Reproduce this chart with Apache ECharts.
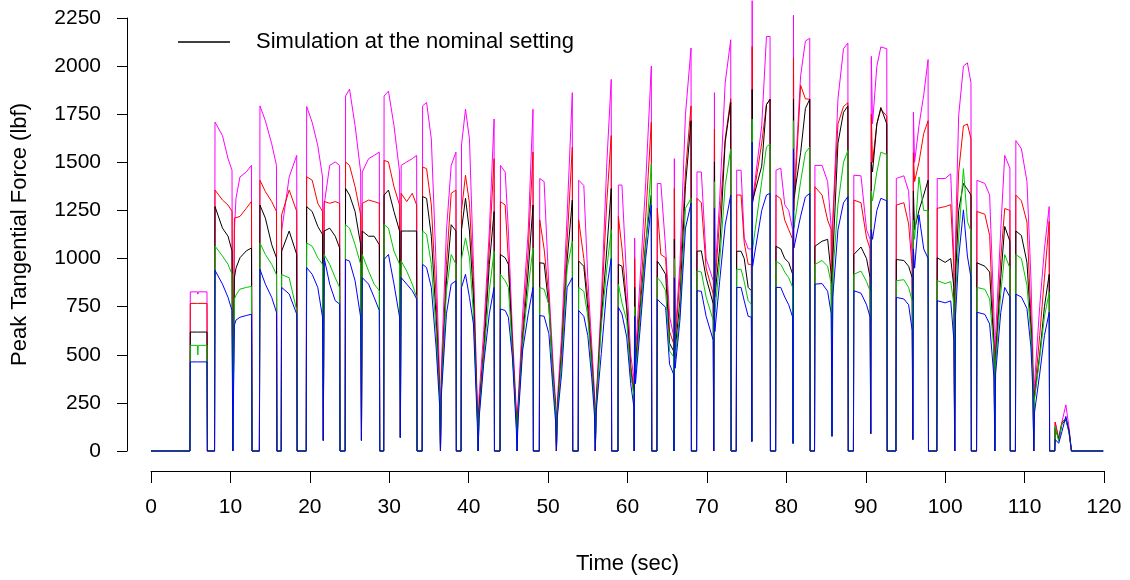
<!DOCTYPE html>
<html>
<head>
<meta charset="utf-8">
<script src="https://cdn.jsdelivr.net/npm/echarts@6/dist/echarts.min.js"></script>
<style>html,body{margin:0;padding:0;background:#fff}#c{width:1130px;height:580px}</style>
</head>
<body>
<div id="c"></div>
<script>
// Time (sec)
const time = [
 0, 4.9,
 4.95, 5.85, 5.9, 5.95, 7.05, 7.1, 8.0,
 8.06, 9.0, 9.7, 10.2, 10.3, 10.42, 10.5, 10.7, 11.2, 12.0, 12.65, 12.72, 13.65,
 13.72, 14.4, 15.2, 15.8, 15.85, 16.4, 16.45, 17.4, 18.35, 18.4, 19.55,
 19.6, 20.3, 21.0, 21.6, 21.7, 21.8, 22.5, 23.2, 23.75, 23.8, 24.45,
 24.5, 25.0, 25.7, 26.4, 26.5, 26.6, 27.4, 28.1, 28.75, 28.8, 29.3,
 29.35, 29.9, 30.6, 31.3, 31.4, 31.5, 32.2, 32.9, 33.45, 33.5, 34.15,
 34.2, 34.7, 35.3, 35.9, 36.35, 36.45, 36.55, 37.2, 37.8, 38.4, 38.45, 39.05,
 39.1, 39.6, 40.1, 40.6, 41.1, 41.2, 41.3, 41.9, 42.6, 43.2, 43.25, 43.95,
 44.0, 44.6, 45.0, 45.5, 46.0, 46.1, 46.2, 46.8, 47.5, 48.1, 48.15, 48.9,
 48.95, 49.5, 50.1, 50.6, 50.95, 51.05, 51.15, 51.7, 52.4, 53.05, 53.1, 53.8,
 53.85, 54.5, 55.0, 55.5, 55.85, 55.95, 56.05, 56.7, 57.4, 57.95, 58.0, 58.8,
 58.85, 59.3, 59.9, 60.4, 60.8, 60.85, 60.9, 61.0, 61.6, 62.3, 63.0, 63.05, 63.7,
 63.75, 64.2, 64.8, 65.3, 65.8, 65.85, 65.9, 66.0, 66.6, 67.3, 68.0, 68.05, 68.7,
 68.75, 69.3, 69.9, 70.8, 70.85, 70.95, 71.0, 71.6, 72.3, 73.0, 73.05, 73.7,
 73.75, 74.3, 74.7, 75.2, 75.6, 75.65, 75.7, 75.75, 76.9, 77.5, 77.95, 78.0, 78.65,
 78.7, 79.3, 79.8, 80.3, 80.8, 80.85, 80.9, 80.95, 81.8, 82.4, 82.95, 83.0, 83.55,
 83.6, 84.5, 85.2, 85.65, 85.75, 85.85, 86.5, 87.2, 87.75, 87.8, 88.45,
 88.5, 89.4, 90.1, 90.55, 90.62, 90.7, 90.85, 91.4, 91.9, 92.65, 92.7, 93.8,
 93.85, 94.8, 95.4, 95.85, 95.92, 96.0, 96.15, 96.7, 97.3, 97.85, 97.9, 98.95,
 99.0, 100.0, 100.7, 101.1, 101.2, 101.3, 101.7, 102.3, 102.8, 103.25, 103.3, 103.95,
 104.0, 105.0, 105.6, 106.15, 106.25, 106.35, 107.0, 107.5, 108.15, 108.2, 108.85,
 108.9, 109.6, 110.3, 110.8, 111.05, 111.15, 111.25, 111.9, 112.5, 113.1, 113.15, 113.8,
 113.85, 114.3, 114.7, 115.2, 115.6, 115.85, 115.9, 119.9
];

// Simulation at the nominal setting (black)
const nominal = [
 0, 0,
 618, 618, 610, 618, 618, 0, 0,
 1270, 1158, 1116, 1040, 0, 0, 900, 950, 1004, 1040, 1055, 0, 0,
 1278, 1210, 1072, 1004, 0, 0, 1038, 1143, 1021, 0, 0,
 1270, 1244, 1167, 1125, 55, 1143, 1158, 1116, 1055, 0, 0,
 1364, 1330, 1244, 1072, 55, 1143, 1116, 1116, 1072, 0, 0,
 1330, 1356, 1244, 1143, 70, 1143, 1143, 1143, 1143, 0, 0,
 1322, 1313, 1116, 695, 283, 0, 317, 884, 1176, 1143, 0, 0,
 1150, 1313, 1143, 798, 180, 0, 214, 506, 970, 1244, 0, 0,
 1021, 1004, 970, 540, 163, 0, 197, 575, 935, 1278, 0, 0,
 978, 975, 750, 400, 220, 0, 200, 500, 990, 1304, 0, 0,
 987, 960, 740, 450, 240, 0, 230, 680, 1050, 1364, 0, 0,
 970, 960, 740, 420, 300, 0, 850, 420, 740, 1090, 1330, 0, 0,
 987, 960, 918, 560, 520, 0, 1100, 520, 780, 1380, 1716, 0, 0,
 1038, 1040, 900, 764, 0, 1502, 800, 1050, 1605, 1811, 0, 0,
 1038, 1038, 1000, 850, 833, 50, 1879, 1300, 1480, 1800, 1828, 0, 0,
 1064, 1050, 1000, 980, 918, 40, 1828, 1313, 1550, 1780, 1828, 0, 0,
 1064, 1090, 1100, 918, 77, 1000, 1600, 1760, 1793, 0, 0,
 1021, 1060, 1000, 900, 90, 1500, 1450, 1700, 1785, 1700, 0, 0,
 995, 990, 960, 900, 60, 1350, 1150, 1250, 1330, 1407, 0, 0,
 1004, 980, 1000, 850, 0, 900, 1250, 1390, 1360, 1330, 0, 0,
 978, 960, 930, 540, 0, 480, 900, 1167, 1090, 0, 0,
 1143, 1120, 980, 640, 400, 0, 280, 500, 750, 918, 0, 0,
 120, 60, 140, 160, 100, 100, 0, 0
];

// red
const redRun = [
 0, 0,
 767, 767, 767, 767, 767, 0, 0,
 1356, 1304, 1278, 1245, 0, 0, 1210, 1215, 1219, 1261, 1297, 0, 0,
 1407, 1348, 1296, 1245, 0, 0, 1227, 1356, 1245, 0, 0,
 1425, 1407, 1287, 1245, 55, 1297, 1287, 1296, 1287, 0, 0,
 1502, 1484, 1373, 1227, 55, 1287, 1304, 1296, 1287, 0, 0,
 1510, 1502, 1373, 1278, 70, 1339, 1296, 1339, 1278, 0, 0,
 1476, 1467, 1278, 798, 317, 0, 352, 970, 1339, 1356, 0, 0,
 1250, 1433, 1287, 884, 197, 0, 232, 557, 1055, 1519, 0, 0,
 1296, 1278, 987, 575, 180, 0, 214, 626, 1038, 1553, 0, 0,
 1201, 1050, 800, 420, 230, 0, 220, 540, 1090, 1579, 0, 0,
 1201, 1000, 800, 500, 260, 0, 250, 720, 1300, 1639, 0, 0,
 1219, 1055, 764, 450, 330, 0, 1000, 450, 800, 1220, 1709, 0, 0,
 1261, 1021, 1004, 620, 560, 0, 1364, 560, 900, 1450, 1793, 0, 0,
 1313, 1290, 950, 815, 0, 1673, 850, 1200, 1622, 1830, 0, 0,
 1330, 1330, 1081, 970, 970, 50, 2102, 1290, 1600, 1800, 1828, 0, 0,
 1330, 1310, 1200, 1150, 1100, 40, 2043, 1250, 1900, 1830, 1828, 0, 0,
 1373, 1330, 1200, 1150, 77, 1180, 1700, 1790, 1810, 0, 0,
 1304, 1290, 1107, 1050, 90, 1750, 1500, 1700, 1776, 1740, 0, 0,
 1278, 1290, 1180, 950, 60, 1550, 1400, 1500, 1650, 1716, 0, 0,
 1261, 1270, 1280, 950, 0, 1000, 1450, 1690, 1699, 1622, 0, 0,
 1245, 1230, 1120, 560, 0, 500, 1000, 1260, 1250, 0, 0,
 1330, 1300, 1190, 700, 420, 0, 300, 600, 900, 1193, 0, 0,
 150, 60, 150, 170, 110, 110, 0, 0
];

// green
const greenRun = [
 0, 0,
 549, 549, 499, 549, 549, 0, 0,
 1065, 1013, 970, 918, 0, 0, 789, 810, 841, 850, 855, 0, 0,
 1081, 1021, 970, 917, 0, 0, 917, 900, 730, 0, 0,
 1081, 1064, 1004, 970, 55, 1021, 970, 900, 850, 0, 0,
 1176, 1158, 1072, 970, 55, 1021, 935, 867, 833, 0, 0,
 1176, 1158, 1038, 970, 70, 987, 935, 867, 798, 0, 0,
 1143, 1125, 970, 626, 266, 0, 300, 833, 1021, 970, 0, 0,
 1000, 1107, 1004, 712, 163, 0, 180, 489, 833, 1038, 0, 0,
 918, 884, 850, 523, 146, 0, 180, 557, 850, 1055, 0, 0,
 850, 840, 760, 390, 200, 0, 190, 470, 950, 1090, 0, 0,
 850, 830, 700, 430, 220, 0, 220, 650, 950, 1150, 0, 0,
 867, 770, 678, 400, 290, 0, 750, 400, 700, 1060, 1493, 0, 0,
 901, 880, 833, 520, 490, 0, 1000, 480, 720, 1261, 1313, 0, 0,
 935, 930, 800, 678, 0, 1399, 720, 980, 1380, 1570, 0, 0,
 944, 944, 880, 780, 764, 50, 1725, 1050, 1400, 1580, 1596, 0, 0,
 987, 970, 930, 900, 850, 40, 1716, 1158, 1400, 1550, 1579, 0, 0,
 970, 990, 960, 870, 77, 920, 1280, 1500, 1561, 0, 0,
 918, 935, 880, 830, 90, 1350, 1300, 1450, 1553, 1540, 0, 0,
 885, 890, 850, 780, 60, 1200, 1100, 1424, 1250, 1250, 0, 0,
 885, 870, 880, 760, 0, 800, 1107, 1467, 1193, 1143, 0, 0,
 850, 840, 790, 520, 0, 460, 820, 1021, 950, 0, 0,
 1021, 1000, 860, 600, 380, 0, 270, 480, 700, 824, 0, 0,
 130, 50, 140, 170, 90, 90, 0, 0
];

// blue
const blueRun = [
 0, 0,
 463, 463, 463, 463, 463, 0, 0,
 939, 867, 798, 730, 0, 0, 653, 680, 695, 704, 711, 0, 0,
 944, 867, 798, 721, 0, 0, 850, 816, 711, 0, 0,
 953, 918, 850, 695, 55, 1004, 867, 781, 764, 0, 0,
 995, 987, 884, 695, 55, 901, 867, 798, 730, 0, 0,
 995, 1021, 867, 695, 70, 901, 867, 833, 790, 0, 0,
 970, 953, 850, 540, 232, 0, 283, 713, 867, 884, 0, 0,
 850, 918, 798, 660, 129, 0, 163, 455, 713, 850, 0, 0,
 738, 730, 695, 489, 112, 0, 146, 523, 713, 850, 0, 0,
 704, 700, 610, 330, 150, 0, 170, 400, 850, 901, 0, 0,
 730, 700, 600, 380, 180, 0, 200, 506, 850, 1000, 0, 0,
 747, 712, 592, 350, 230, 0, 700, 350, 640, 1004, 1278, 0, 0,
 789, 770, 747, 450, 400, 0, 900, 430, 678, 1158, 1287, 0, 0,
 833, 830, 700, 575, 0, 1261, 620, 880, 1174, 1330, 0, 0,
 850, 850, 780, 700, 695, 50, 1605, 960, 1250, 1330, 1339, 0, 0,
 850, 850, 800, 760, 695, 40, 1570, 1055, 1220, 1320, 1339, 0, 0,
 867, 870, 830, 714, 77, 800, 1150, 1290, 1322, 0, 0,
 833, 820, 760, 695, 90, 1150, 1100, 1250, 1313, 1300, 0, 0,
 798, 790, 760, 626, 60, 1050, 950, 1227, 1050, 1000, 0, 0,
 781, 770, 780, 575, 0, 700, 1004, 1253, 1013, 901, 0, 0,
 721, 710, 660, 380, 0, 400, 720, 850, 800, 0, 0,
 815, 800, 740, 540, 300, 0, 200, 400, 600, 721, 0, 0,
 60, 40, 100, 180, 100, 100, 0, 0
];

// magenta
const magentaRun = [
 0, 0,
 827, 827, 815, 827, 827, 0, 0,
 1709, 1639, 1519, 1459, 0, 0, 1143, 1313, 1424, 1450, 1484, 0, 0,
 1793, 1716, 1596, 1484, 0, 0, 1143, 1424, 1536, 0, 0,
 1790, 1707, 1587, 1424, 55, 1278, 1484, 1502, 1484, 0, 0,
 1845, 1880, 1690, 1450, 55, 1450, 1519, 1536, 1553, 0, 0,
 1845, 1870, 1690, 1450, 70, 1484, 1502, 1519, 1536, 0, 0,
 1793, 1811, 1621, 970, 369, 0, 420, 1143, 1484, 1553, 0, 0,
 1590, 1776, 1622, 970, 232, 0, 283, 626, 1143, 1725, 0, 0,
 1484, 1450, 1143, 626, 214, 0, 232, 712, 1143, 1776, 0, 0,
 1416, 1400, 850, 480, 250, 0, 250, 600, 1227, 1862, 0, 0,
 1407, 1380, 900, 550, 300, 0, 260, 780, 1500, 1931, 0, 0,
 1382, 1382, 884, 500, 380, 0, 1107, 500, 900, 1400, 2000, 0, 0,
 1390, 1390, 1055, 700, 600, 0, 1519, 600, 970, 1750, 2094, 0, 0,
 1450, 1450, 1000, 884, 0, 1862, 900, 1300, 1913, 2137, 0, 0,
 1459, 1459, 1107, 1050, 1050, 50, 2340, 1300, 1690, 2154, 2154, 0, 0,
 1459, 1470, 1280, 1250, 1150, 40, 2265, 1313, 1950, 2130, 2145, 0, 0,
 1484, 1484, 1400, 1160, 77, 1200, 1830, 2090, 2120, 0, 0,
 1433, 1430, 1150, 1100, 90, 2051, 1700, 2000, 2100, 2090, 0, 0,
 1416, 1430, 1350, 1000, 60, 1760, 1500, 1690, 1850, 2034, 0, 0,
 1416, 1416, 1440, 1000, 0, 1100, 1742, 2000, 2017, 1913, 0, 0,
 1407, 1390, 1330, 700, 0, 600, 1150, 1536, 1470, 0, 0,
 1613, 1570, 1400, 900, 500, 0, 350, 750, 1050, 1270, 0, 0,
 150, 70, 150, 240, 120, 110, 0, 0
];

const xTicks = [0, 120, 10];
const yTicks = [0, 2250, 250];
const legendName = 'Simulation at the nominal setting';

function pairs(vals) { return time.map((t, i) => [t, vals[i]]); }

const FONT = 'Liberation Sans, Arial, sans-serif';
function mk(name, color, vals) {
  return {
    name: name, type: 'line', data: pairs(vals), symbol: 'none', showSymbol: false,
    clip: false, lineStyle: { color: color, width: 1 }, itemStyle: { color: color },
    emphasis: { disabled: true }, silent: true
  };
}

const chart = echarts.init(document.getElementById('c'), null, { renderer: 'canvas' });
chart.setOption({
  animation: false,
  backgroundColor: '#fff',
  grid: { left: 151, right: 26, top: 18, bottom: 122 },
  legend: {
    data: [{ name: legendName, icon: 'rect', itemStyle: { color: '#000' } }],
    left: 178, top: 31, padding: 0, itemWidth: 52, itemHeight: 1.6,
    textStyle: { fontSize: 22, color: '#000', fontFamily: FONT, padding: [0, 0, 0, 21] }
  },
  xAxis: {
    type: 'value', min: xTicks[0], max: xTicks[1], interval: xTicks[2], offset: 20,
    axisLine: { onZero: false, lineStyle: { color: '#000', width: 1 } },
    axisTick: { length: 12, lineStyle: { color: '#000' } },
    axisLabel: { fontSize: 21, color: '#000', margin: 26, fontFamily: FONT },
    splitLine: { show: false },
    name: 'Time (sec)', nameLocation: 'middle', nameGap: 82,
    nameTextStyle: { fontSize: 22, color: '#000', fontFamily: FONT }
  },
  yAxis: {
    type: 'value', min: yTicks[0], max: yTicks[1], interval: yTicks[2], offset: 24,
    axisLine: { show: true, onZero: false, lineStyle: { color: '#000', width: 1 } },
    axisTick: { show: true, length: 10, lineStyle: { color: '#000' } },
    axisLabel: { fontSize: 21, color: '#000', margin: 26, fontFamily: FONT,
      formatter: function (v) { return String(v); } },
    splitLine: { show: false },
    name: 'Peak Tangential Force (lbf)', nameLocation: 'middle', nameGap: 96,
    nameTextStyle: { fontSize: 22, color: '#000', fontFamily: FONT }
  },
  series: [
    mk('magenta', '#ff00ff', magentaRun),
    mk('red', '#ff0000', redRun),
    mk(legendName, '#000000', nominal),
    mk('green', '#00c800', greenRun),
    mk('blue', '#0000ff', blueRun)
  ]
});
</script>
</body>
</html>
